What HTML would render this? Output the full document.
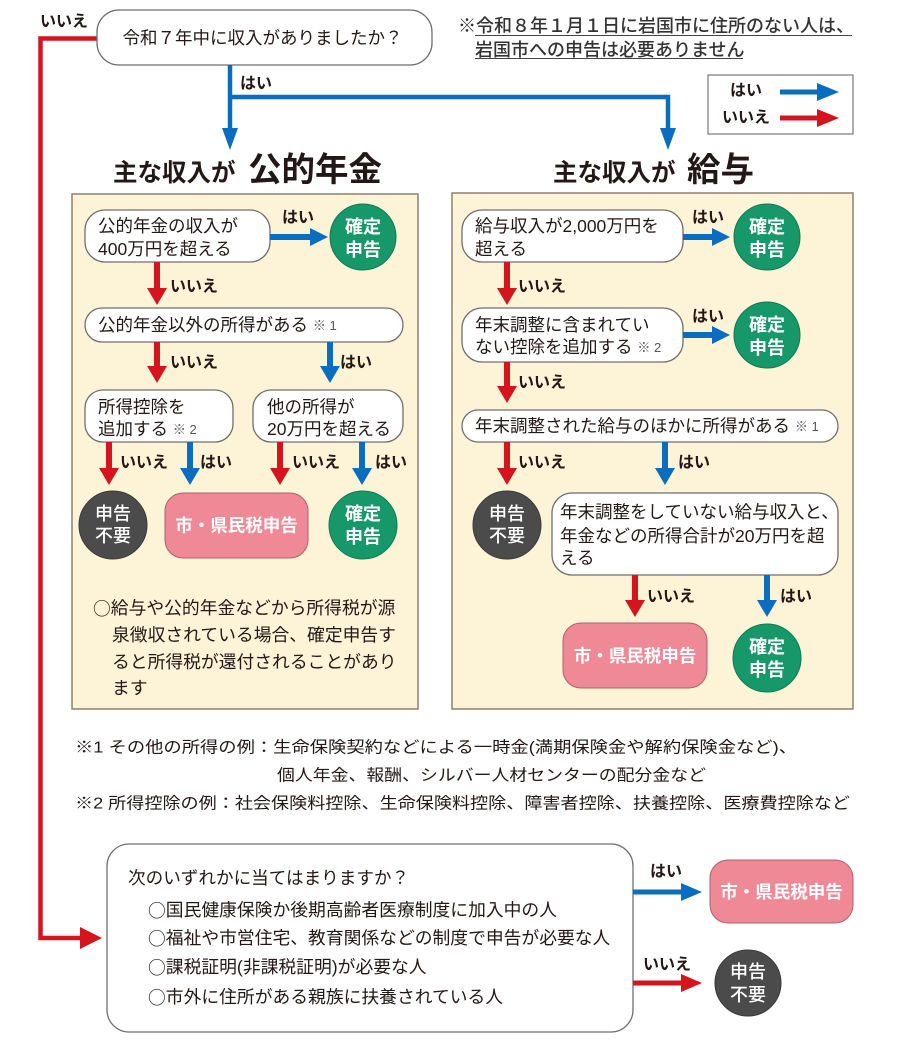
<!DOCTYPE html>
<html lang="ja">
<head>
<meta charset="utf-8">
<style>
html,body{margin:0;padding:0;background:#fff;}
svg{display:block;}
text{font-family:"Liberation Sans","Noto Sans CJK JP",sans-serif;fill:#231815;dominant-baseline:central;}
.b{font-size:17.5px;}
.lab{font-size:16px;font-weight:bold;}
.w{fill:#fff;font-weight:bold;font-size:18px;text-anchor:middle;}
.wn{fill:#fff;font-weight:500;font-size:18px;text-anchor:middle;}
.sm{font-size:13px;fill:#555;}
.ci{font-family:"Noto Sans CJK JP",sans-serif;}
.box{fill:#fff;stroke:#6f6f6f;stroke-width:1.3;}
.panel{fill:#fdf3d7;stroke:#8c8070;stroke-width:1.5;}
.bl{fill:#0b6dbf;}
.rd{fill:#d5141d;}
.gr{fill:#17986b;stroke:#0f7a55;stroke-width:1;}
.gy{fill:#4c4b4b;stroke:#3a3a3a;stroke-width:1;}
.pk{fill:#ee8995;stroke:#b0616c;stroke-width:1;}
</style>
</head>
<body>
<svg width="900" height="1051" viewBox="0 0 900 1051" xmlns="http://www.w3.org/2000/svg">

<!-- top red line -->
<path d="M97,38.5 H40.5 V938 H84" fill="none" stroke="#d5141d" stroke-width="4.5"/>
<polygon class="rd" points="80,927 102,938 80,949"/>
<text class="lab" x="40" y="22">いいえ</text>

<!-- top question -->
<rect class="box" x="97" y="10" width="335" height="55" rx="22"/>
<text class="b" x="262.5" y="38" text-anchor="middle" style="font-size:17.5px">令和７年中に収入がありましたか？</text>

<!-- blue top connectors -->
<path d="M230,65 V130 M230,97 H668 V130" fill="none" stroke="#0b6dbf" stroke-width="4.5"/>
<polygon class="bl" points="222,128 238,128 230,150"/>
<polygon class="bl" points="660,128 676,128 668,150"/>
<text class="lab" x="240" y="84">はい</text>

<!-- top-right note -->
<text x="458" y="26" style="font-size:18px;font-weight:500;fill:#333">※令和８年１月１日に岩国市に住所のない人は、</text>
<text x="475" y="50" style="font-size:18px;font-weight:500;fill:#333">岩国市への申告は必要ありません</text>
<line x1="475" y1="35.5" x2="852" y2="35.5" stroke="#444" stroke-width="1"/>
<line x1="475" y1="58.5" x2="743" y2="58.5" stroke="#444" stroke-width="1"/>

<!-- legend -->
<rect x="708" y="75" width="145" height="59" fill="#fff" stroke="#777" stroke-width="1.2"/>
<text class="lab" x="730" y="91">はい</text>
<polygon class="bl" points="780,89.5 817,89.5 817,83 839,92 817,101 817,94.5 780,94.5"/>
<text class="lab" x="722" y="118">いいえ</text>
<polygon class="rd" points="780,115.5 817,115.5 817,109 839,118 817,127 817,120.5 780,120.5"/>

<!-- headers -->
<text x="113" y="170" style="font-size:24.5px;font-weight:bold;dominant-baseline:auto" dy="11">主な収入が</text>
<text x="248" y="170" style="font-size:33.5px;font-weight:bold;dominant-baseline:auto" dy="11">公的年金</text>
<text x="553" y="170" style="font-size:24.5px;font-weight:bold;dominant-baseline:auto" dy="11">主な収入が</text>
<text x="687" y="170" style="font-size:33.5px;font-weight:bold;dominant-baseline:auto" dy="11">給与</text>

<!-- panels -->
<rect class="panel" x="72" y="194" width="346" height="515"/>
<rect class="panel" x="452" y="193" width="401" height="516"/>

<!-- LEFT PANEL -->
<rect class="box" x="85" y="210" width="185" height="52" rx="20"/>
<text class="b" x="98" y="226">公的年金の収入が</text>
<text class="b" x="98" y="249">400万円を超える</text>
<polygon class="bl" points="270,234 310,234 310,228 328,237 310,246 310,240 270,240"/>
<text class="lab" x="282" y="218">はい</text>
<circle class="gr" cx="363" cy="237" r="33"/>
<text class="w" x="363" y="227">確定</text>
<text class="w" x="363" y="250">申告</text>

<polygon class="rd" points="154,262 160,262 160,288 167,288 157,305 147,288 154,288"/>
<text class="lab" x="170" y="287">いいえ</text>

<rect class="box" x="85" y="308" width="318" height="34" rx="17"/>
<text class="b" x="98" y="325">公的年金以外の所得がある <tspan class="sm">※ 1</tspan></text>

<polygon class="rd" points="154,342 160,342 160,366 167,366 157,383 147,366 154,366"/>
<text class="lab" x="170" y="363">いいえ</text>
<polygon class="bl" points="327,342 333,342 333,366 340,366 330,383 320,366 327,366"/>
<text class="lab" x="340" y="363">はい</text>

<rect class="box" x="85" y="390" width="148" height="52" rx="18"/>
<text class="b" x="98" y="407">所得控除を</text>
<text class="b" x="98" y="429">追加する <tspan class="sm">※ 2</tspan></text>
<rect class="box" x="253" y="390" width="150" height="52" rx="18"/>
<text class="b" x="267" y="407">他の所得が</text>
<text class="b" x="267" y="429">20万円を超える</text>

<polygon class="rd" points="106,442 112,442 112,468 119,468 109,485 99,468 106,468"/>
<text class="lab" x="120" y="463">いいえ</text>
<polygon class="bl" points="187,442 193,442 193,468 200,468 190,485 180,468 187,468"/>
<text class="lab" x="200" y="463">はい</text>
<polygon class="rd" points="277,442 283,442 283,468 290,468 280,485 270,468 277,468"/>
<text class="lab" x="292" y="463">いいえ</text>
<polygon class="bl" points="359,442 365,442 365,468 372,468 362,485 352,468 359,468"/>
<text class="lab" x="375" y="463">はい</text>

<circle class="gy" cx="113" cy="525" r="34"/>
<text class="wn" x="113" y="514">申告</text>
<text class="wn" x="113" y="536">不要</text>
<rect class="pk" x="165" y="493" width="143" height="65" rx="18"/>
<text class="w" x="236.5" y="525.5" style="font-size:17.5px">市・県民税申告</text>
<circle class="gr" cx="363" cy="525" r="34"/>
<text class="w" x="363" y="514">確定</text>
<text class="w" x="363" y="537">申告</text>

<text x="93" y="608" style="font-size:17.8px"><tspan class="ci">○</tspan>給与や公的年金などから所得税が源</text>
<text x="112" y="635" style="font-size:17.8px">泉徴収されている場合、確定申告す</text>
<text x="112" y="662" style="font-size:17.8px">ると所得税が還付されることがあり</text>
<text x="112" y="688" style="font-size:17.8px">ます</text>

<!-- RIGHT PANEL -->
<rect class="box" x="462" y="210" width="221" height="52" rx="20"/>
<text class="b" x="475" y="226">給与収入が2,000万円を</text>
<text class="b" x="475" y="249">超える</text>
<polygon class="bl" points="683,234 712,234 712,228 730,237 712,246 712,240 683,240"/>
<text class="lab" x="692" y="218">はい</text>
<circle class="gr" cx="767" cy="237" r="33"/>
<text class="w" x="767" y="227">確定</text>
<text class="w" x="767" y="250">申告</text>

<polygon class="rd" points="504,262 510,262 510,288 517,288 507,305 497,288 504,288"/>
<text class="lab" x="518" y="287">いいえ</text>

<rect class="box" x="462" y="308" width="221" height="54" rx="20"/>
<text class="b" x="475" y="325">年末調整に含まれてい</text>
<text class="b" x="475" y="347">ない控除を追加する <tspan class="sm">※ 2</tspan></text>
<polygon class="bl" points="683,332 712,332 712,326 730,335 712,344 712,338 683,338"/>
<text class="lab" x="692" y="317">はい</text>
<circle class="gr" cx="767" cy="335" r="33"/>
<text class="w" x="767" y="325">確定</text>
<text class="w" x="767" y="348">申告</text>

<polygon class="rd" points="504,362 510,362 510,386 517,386 507,403 497,386 504,386"/>
<text class="lab" x="518" y="383">いいえ</text>

<rect class="box" x="462" y="410" width="376" height="32" rx="16"/>
<text class="b" x="475" y="426">年末調整された給与のほかに所得がある <tspan class="sm">※ 1</tspan></text>

<polygon class="rd" points="504,442 510,442 510,468 517,468 507,485 497,468 504,468"/>
<text class="lab" x="518" y="463">いいえ</text>
<polygon class="bl" points="662,442 668,442 668,468 675,468 665,485 655,468 662,468"/>
<text class="lab" x="678" y="463">はい</text>

<circle class="gy" cx="507" cy="525" r="34"/>
<text class="wn" x="507" y="514">申告</text>
<text class="wn" x="507" y="536">不要</text>

<rect class="box" x="552" y="493" width="286" height="82" rx="20"/>
<text class="b" x="560" y="512">年末調整をしていない給与収入と、</text>
<text class="b" x="560" y="536">年金などの所得合計が20万円を超</text>
<text class="b" x="560" y="558">える</text>

<polygon class="rd" points="632,575 638,575 638,600 645,600 635,617 625,600 632,600"/>
<text class="lab" x="647" y="597">いいえ</text>
<polygon class="bl" points="764,575 770,575 770,600 777,600 767,617 757,600 764,600"/>
<text class="lab" x="780" y="597">はい</text>

<rect class="pk" x="563" y="623" width="144" height="65" rx="18"/>
<text class="w" x="635" y="656" style="font-size:17.5px">市・県民税申告</text>
<circle class="gr" cx="767" cy="658" r="34"/>
<text class="w" x="767" y="647">確定</text>
<text class="w" x="767" y="670">申告</text>

<!-- footnotes -->
<text x="75" y="748" style="font-size:16px" textLength="722" lengthAdjust="spacingAndGlyphs">※1 その他の所得の例：生命保険契約などによる一時金(満期保険金や解約保険金など)、</text>
<text x="277" y="776" style="font-size:16px" textLength="429" lengthAdjust="spacingAndGlyphs">個人年金、報酬、シルバー人材センターの配分金など</text>
<text x="75" y="804" style="font-size:16px" textLength="775" lengthAdjust="spacingAndGlyphs">※2 所得控除の例：社会保険料控除、生命保険料控除、障害者控除、扶養控除、医療費控除など</text>

<!-- bottom box -->
<rect class="box" x="107" y="844" width="526" height="188" rx="22"/>
<text x="128" y="878" style="font-size:17.6px">次のいずれかに当てはまりますか？</text>
<text x="148" y="910" style="font-size:17.8px"><tspan class="ci">○</tspan>国民健康保険か後期高齢者医療制度に加入中の人</text>
<text x="148" y="938" style="font-size:17.8px"><tspan class="ci">○</tspan>福祉や市営住宅、教育関係などの制度で申告が必要な人</text>
<text x="148" y="967" style="font-size:17.8px"><tspan class="ci">○</tspan>課税証明(非課税証明)が必要な人</text>
<text x="148" y="997" style="font-size:17.8px"><tspan class="ci">○</tspan>市外に住所がある親族に扶養されている人</text>

<polygon class="bl" points="633,889.5 681,889.5 681,883 702,892 681,901 681,894.5 633,894.5"/>
<text class="lab" x="650" y="872">はい</text>
<rect class="pk" x="710" y="860" width="143" height="63" rx="18"/>
<text class="w" x="781.5" y="892" style="font-size:17.5px">市・県民税申告</text>

<polygon class="rd" points="633,980.5 681,980.5 681,974 702,983 681,992 681,985.5 633,985.5"/>
<text class="lab" x="643" y="965">いいえ</text>
<circle class="gy" cx="748" cy="983" r="33"/>
<text class="wn" x="748" y="972">申告</text>
<text class="wn" x="748" y="995">不要</text>

</svg>
</body>
</html>
